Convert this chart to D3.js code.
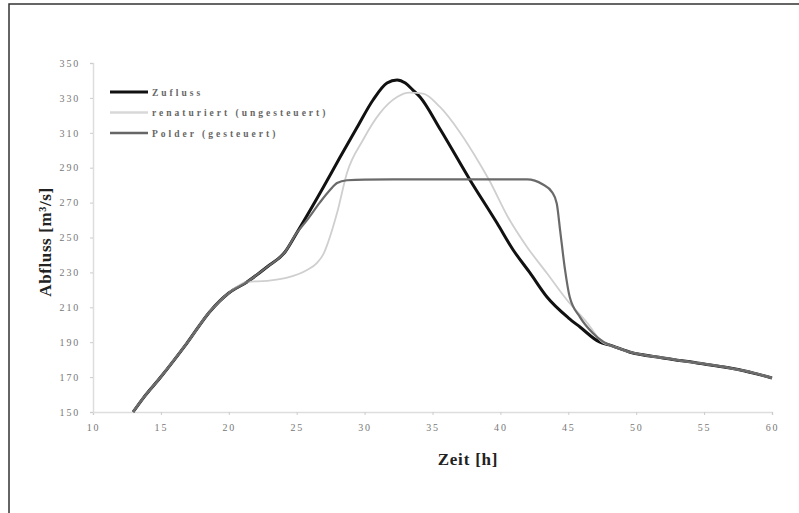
<!DOCTYPE html>
<html><head><meta charset="utf-8">
<script src="https://cdn.jsdelivr.net/npm/d3@7"></script>
<style>body{margin:0;background:#fff}svg{display:block}</style>
</head><body>
<script>
const seriesNames = ["Zufluss", "renaturiert (ungesteuert)", "Polder (gesteuert)"];
const xTicks = [10,15,20,25,30,35,40,45,50,55,60];
const yTicks = [150,170,190,210,230,250,270,290,310,330,350];

const zufluss = [[12.95,150],[13.7,158],[14.93,169.5],[16.92,189.5],[18.6,207.5],[20,218.2],[21.34,224.5],[22.81,233.1],[24.14,241.7],[25.0,252.6],[26.94,278.5],[28.19,296],[29.44,313],[30.62,328.8],[31.65,338.5],[32.39,340.3],[33.0,338.5],[33.56,334.5],[34.08,330.5],[35.6,311.6],[37.76,283],[39.75,258.3],[40.93,243],[42.18,229.7],[43.43,215.9],[45,204],[45.86,198.7],[47.33,190],[48,188.5],[49.5,184.4],[51.97,181],[54.48,178.1],[56.9,175.2],[58,173.5],[60,169.5]];

const renaturiert = [[12.95,150],[13.7,158],[14.93,169.5],[16.92,189.5],[18.6,207.5],[20,218.2],[21.34,224.5],[22.8,225.2],[24.3,227],[25.76,231.4],[26.5,235.5],[27.0,241],[27.3,247],[27.97,264],[28.7,287],[29.88,305.9],[31.13,321.3],[32.39,330.5],[33.3,333],[34.3,332.5],[35.55,324.8],[37.0,310.5],[38.5,292],[39.2,282.5],[40.5,262.5],[41.96,244.6],[43.43,229.5],[44.9,214.2],[46.4,201],[47.6,189.5],[48,188.5],[49.5,184.4],[51.97,181],[54.48,178.1],[56.9,175.2],[58,173.5],[60,169.5]];

const polder = [[12.95,150],[13.7,158],[14.93,169.5],[16.92,189.5],[18.6,207.5],[20,218.2],[21.34,224.5],[22.81,233.1],[24.14,241.7],[25.0,252.6],[25.76,260],[26.7,270],[27.45,277.2],[27.97,281.2],[28.7,282.8],[30,283.2],[35,283.3],[40,283.3],[41.96,283.3],[43.1,280.5],[43.8,276],[44.15,269.5],[44.4,254],[44.76,231.4],[45.1,216],[45.86,204.4],[46.8,195.3],[47.6,190.1],[48,188.5],[49.5,184.4],[51.97,181],[54.48,178.1],[56.9,175.2],[58,173.5],[60,169.5]];

const W = 799, H = 513;
const svg = d3.select("body").append("svg").attr("width", W).attr("height", H);

// outer frame
svg.append("path").attr("d", `M9,${H+5} L9,4 L${W+5},4`).attr("fill","none").attr("stroke","#333").attr("stroke-width",1.5);

const x = d3.scaleLinear().domain([10,60]).range([93,772]);
const y = d3.scaleLinear().domain([150,350]).range([412,63]);

const tickFont = "Liberation Serif, serif";
const xAxis = svg.append("g").attr("transform","translate(0,412)")
  .call(d3.axisBottom(x).tickValues(xTicks).tickSize(3).tickPadding(9).tickFormat(d3.format("d")));
const yAxis = svg.append("g").attr("transform","translate(93,0)")
  .call(d3.axisLeft(y).tickValues(yTicks).tickSize(3).tickPadding(10).tickFormat(d3.format("d")));
[xAxis,yAxis].forEach(a=>{
  a.select(".domain").attr("stroke","#ddd").attr("stroke-width",1.5);
  a.selectAll(".tick line").attr("stroke","#ccc");
  a.selectAll("text").attr("font-family",tickFont).attr("font-size",10).attr("fill","#777").attr("letter-spacing","1.8px");
});

const line = d3.line().x(d=>x(d[0])).y(d=>y(d[1])).curve(d3.curveMonotoneX);

svg.append("path").datum(zufluss).attr("d",line).attr("fill","none").attr("stroke","#111").attr("stroke-width",3);
svg.append("path").datum(renaturiert).attr("d",line).attr("fill","none").attr("stroke","#cfcfcf").attr("stroke-width",1.8);
svg.append("path").datum(polder).attr("d",line).attr("fill","none").attr("stroke","#6a6a6a").attr("stroke-width",2.2);

// legend
const legStyles = [{c:"#111",w:3},{c:"#d8d8d8",w:2.5},{c:"#666",w:2.5}];
const legY = [92,112.5,133];
seriesNames.forEach((n,i)=>{
  svg.append("line").attr("x1",110).attr("x2",148).attr("y1",legY[i]).attr("y2",legY[i])
    .attr("stroke",legStyles[i].c).attr("stroke-width",legStyles[i].w);
  svg.append("text").attr("x",152).attr("y",legY[i]+3.5).text(n)
    .attr("font-family",tickFont).attr("font-size",9.5).attr("font-weight","bold")
    .attr("fill","#666").attr("letter-spacing","3px");
});

// axis titles
svg.append("text").attr("x",468).attr("y",465).attr("text-anchor","middle")
  .attr("font-family",tickFont).attr("font-weight","bold").attr("font-size",17).attr("fill","#222")
  .attr("letter-spacing","0.8px").text("Zeit [h]");
svg.append("text").attr("transform","translate(51,242) rotate(-90)").attr("text-anchor","middle")
  .attr("font-family",tickFont).attr("font-weight","bold").attr("font-size",17).attr("fill","#222")
  .attr("letter-spacing","0.6px").text("Abfluss [m³/s]");
</script>
</body></html>
